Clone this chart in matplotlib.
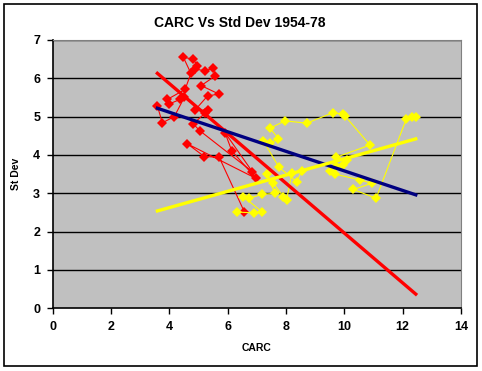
import matplotlib
matplotlib.use("Agg")
import matplotlib.pyplot as plt
from matplotlib.patches import Rectangle

plt.rcParams['font.family'] = ['Liberation Sans', 'DejaVu Sans']

# ----------------------------------
# Data
# ----------------------------------
red_x = [3.59, 3.76, 4.17, 4.51, 4.37, 3.99, 3.93, 4.54, 4.74, 4.48, 4.82, 4.96,
         4.88, 5.22, 5.51, 5.57, 5.09, 5.70, 5.31, 4.88, 5.34, 5.22, 4.82, 5.05,
         6.85, 5.91, 6.14, 6.97, 4.62, 5.20, 5.71, 6.57]
red_y = [5.28, 4.84, 5.00, 5.50, 5.45, 5.33, 5.45, 5.71, 6.13, 6.55, 6.50, 6.33,
         6.24, 6.20, 6.26, 6.06, 5.81, 5.59, 5.54, 5.17, 5.17, 5.09, 4.81, 4.63,
         3.56, 4.58, 4.11, 3.39, 4.29, 3.96, 3.94, 2.52]

yel_x = [6.33, 6.91, 7.19, 6.54, 6.73, 7.17, 7.62, 7.34, 7.57, 7.91, 8.02, 8.20,
         8.54, 8.37, 7.76, 7.22, 7.45, 7.74, 7.45, 7.97, 8.71, 9.60, 9.94, 10.02,
         10.88, 9.72, 10.08, 9.97, 9.72, 9.51, 9.68, 10.54, 10.94, 10.31, 11.09,
         12.12, 12.31, 12.45]
yel_y = [2.51, 2.49, 2.51, 2.91, 2.87, 2.97, 3.00, 3.50, 3.26, 2.91, 2.83, 3.52,
         3.59, 3.30, 3.68, 4.37, 4.30, 4.43, 4.70, 4.89, 4.83, 5.10, 5.07, 5.02,
         4.26, 3.94, 3.87, 3.73, 3.72, 3.59, 3.50, 3.35, 3.26, 3.10, 2.87,
         4.93, 5.00, 4.98]

trend_x = [3.59, 12.45]
red_trend = [6.13, 0.37]
blue_trend = [5.22, 2.96]
yel_trend = [2.54, 4.42]

# ----------------------------------
# Plot
# ----------------------------------
fig = plt.figure(figsize=(4.82, 3.71), dpi=100)
ax = fig.add_axes([0.1093, 0.169, 0.8471, 0.7232])
ax.set_facecolor('#C0C0C0')

for y in range(1, 8):
    ax.axhline(y, color='black', linewidth=1.0, zorder=1)

ax.plot(red_x, red_y, color='#FF0000', linewidth=0.8, marker='D', markersize=5.5,
        markeredgewidth=0, zorder=3)
ax.plot(yel_x, yel_y, color='#FFFF00', linewidth=0.8, marker='D', markersize=5.5,
        markeredgewidth=0, zorder=3)

ax.plot(trend_x, red_trend, color='#FF0000', linewidth=2.4, zorder=4)
ax.plot(trend_x, blue_trend, color='#000080', linewidth=2.4, zorder=4)
ax.plot(trend_x, yel_trend, color='#FFFF00', linewidth=2.4, zorder=4)

ax.set_xlim(0, 14)
ax.set_ylim(0, 7)
ax.set_xticks(range(0, 15, 2))
ax.set_yticks(range(0, 8))
ax.tick_params(direction='out', length=4, width=1, labelsize=9, pad=5)
for lab in ax.get_xticklabels() + ax.get_yticklabels():
    lab.set_fontweight('bold')

for side in ['top', 'right']:
    ax.spines[side].set_color('#808080')
for side in ['left', 'bottom']:
    ax.spines[side].set_color('black')
    ax.spines[side].set_linewidth(1.2)

ax.set_xlabel("CARC", fontsize=7.5, fontweight='bold', labelpad=7)
ax.set_ylabel("St Dev", fontsize=7.5, fontweight='bold', labelpad=9)
fig.text(0.498, 0.938, "CARC Vs Std Dev 1954-78", ha='center', va='center',
         fontsize=10, fontweight='bold')

fig.patches.append(Rectangle((4 / 482, 5 / 371), 473 / 482, 362 / 371,
                             transform=fig.transFigure, fill=False,
                             edgecolor='black', linewidth=1.2))

fig.savefig("out.png", dpi=100)
